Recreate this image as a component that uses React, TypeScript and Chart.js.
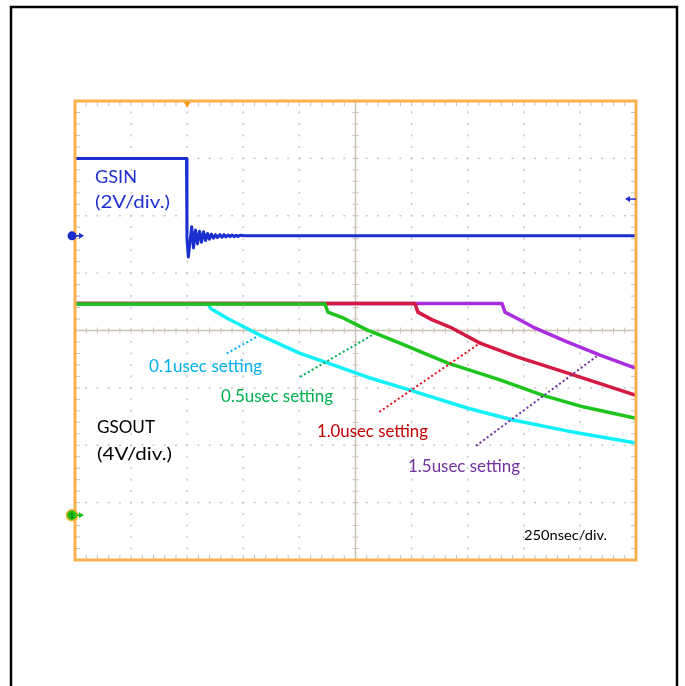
import React, { useEffect, useRef } from "react";
import { Chart, registerables } from "chart.js";

Chart.register(...registerables);

// Horizontal axis: time in ns, 250 ns/div, 10 divisions
const TIME_MIN = 0;
const TIME_MAX = 2500;
const TIME_PER_DIV = 250;
// Vertical axis: screen divisions (0 = bottom, 8 = top)
const DIV_MIN = 0;
const DIV_MAX = 8;

// GSIN (2V/div.)
const gsinTime = [0, 497, 499, 505, 520, 528, 537, 546, 555, 564, 573, 582, 591, 599, 608, 617, 626, 635, 646, 655, 664, 673, 682, 691, 700, 709, 718, 727, 736, 760, 2500];
const gsinLevel = [7.0, 7.0, 5.6, 5.28, 5.81, 5.44, 5.75, 5.51, 5.73, 5.54, 5.72, 5.57, 5.69, 5.59, 5.68, 5.61, 5.67, 5.62, 5.67, 5.625, 5.67, 5.63, 5.665, 5.635, 5.665, 5.635, 5.66, 5.64, 5.66, 5.65, 5.65];

// GSOUT (4V/div.) for each setting
const out01Time = [0, 593, 606, 680, 765, 824, 1003, 1150, 1301, 1493, 1747, 1952, 2193, 2500];
const out01Level = [4.46, 4.46, 4.38, 4.21, 4.04, 3.92, 3.6, 3.4, 3.19, 2.96, 2.65, 2.44, 2.25, 2.04];

const out05Time = [0, 1114, 1127, 1200, 1301, 1448, 1662, 1894, 2086, 2264, 2500];
const out05Level = [4.46, 4.46, 4.32, 4.21, 4.01, 3.78, 3.43, 3.14, 2.87, 2.67, 2.47];

const out10Time = [0, 1515, 1528, 1590, 1671, 1805, 1970, 2193, 2500];
const out10Level = [4.47, 4.47, 4.32, 4.19, 4.06, 3.78, 3.54, 3.26, 2.87];

const out15Time = [0, 1903, 1916, 1975, 2041, 2193, 2340, 2500];
const out15Level = [4.47, 4.47, 4.32, 4.2, 4.06, 3.8, 3.57, 3.34];

// dotted leader lines from labels to curves
const lead01Time = [676, 810];
const lead01Level = [3.6, 3.89];
const lead05Time = [1003, 1324];
const lead05Level = [3.19, 3.92];
const lead10Time = [1356, 1812];
const lead10Level = [2.58, 3.8];
const lead15Time = [1787, 2325];
const lead15Level = [1.99, 3.55];

// text annotations (anchored in data units: left / baseline)
const noteTexts = ["GSIN", "(2V/div.)", "GSOUT", "(4V/div.)", "0.1usec setting", "0.5usec setting", "1.0usec setting", "1.5usec setting", "250nsec/div."];
const noteTimes = [89, 89, 98, 98, 330, 651, 1078, 1484, 2001];
const noteLevels = [6.57, 6.13, 2.21, 1.74, 3.28, 2.75, 2.14, 1.53, 0.35];

// channel markers
const gsinGroundLevel = 5.65;
const gsoutGroundLevel = 0.78;
const triggerTime = 500;
const triggerLevel = 6.29;

const noteColors = ["#1f2fd0", "#1f2fd0", "#000000", "#000000", "#00b0f0", "#00b050", "#c00000", "#7030a0", "#000000"];
const noteFonts = ["18px Lato", "18px Lato", "18px Lato", "18px Lato", "16.5px Lato", "16.5px Lato", "16.5px Lato", "16.5px Lato", "13px Lato"];
const noteWidths = [42, 75, 58, 75, 113, 112, 111, 112, 83];

const pts = (t: number[], v: number[]) => t.map((x, i) => ({ x, y: v[i] }));

const scopePlugin = {
  id: "scope",
  beforeDraw(chart: any) {
    const ctx = chart.ctx;
    ctx.save();
    ctx.fillStyle = "#ffffff";
    ctx.fillRect(0, 0, chart.width, chart.height);
    ctx.restore();
  },
  beforeDatasetsDraw(chart: any) {
    const { ctx, chartArea: a, scales } = chart;
    const xs = scales.x;
    const ys = scales.y;
    ctx.save();
    // dotted grid
    ctx.fillStyle = "#c6c6c6";
    const midT = (TIME_MIN + TIME_MAX) / 2;
    const midV = (DIV_MIN + DIV_MAX) / 2;
    for (let t = TIME_MIN + TIME_PER_DIV; t < TIME_MAX - 1; t += TIME_PER_DIV) {
      if (Math.abs(t - midT) < 1) continue;
      const px = xs.getPixelForValue(t);
      for (let v = DIV_MIN; v <= DIV_MAX + 1e-6; v += 0.2) {
        const py = ys.getPixelForValue(v);
        ctx.fillRect(px - 0.75, py - 1, 1.5, 2);
      }
    }
    for (let v = DIV_MIN + 1; v < DIV_MAX; v += 1) {
      if (Math.abs(v - midV) < 1e-6) continue;
      const py = ys.getPixelForValue(v);
      for (let t = TIME_MIN; t <= TIME_MAX + 1e-6; t += TIME_PER_DIV / 5) {
        const px = xs.getPixelForValue(t);
        ctx.fillRect(px - 1, py - 0.75, 2, 1.5);
      }
    }
    // center cross lines with minor ticks
    const cx = xs.getPixelForValue(midT);
    const cy = ys.getPixelForValue(midV);
    ctx.strokeStyle = "#c9c1b2";
    ctx.lineWidth = 1.5;
    ctx.beginPath();
    ctx.moveTo(a.left, cy);
    ctx.lineTo(a.right, cy);
    ctx.moveTo(cx, a.top);
    ctx.lineTo(cx, a.bottom);
    ctx.stroke();
    ctx.lineWidth = 1;
    ctx.beginPath();
    for (let t = TIME_MIN; t <= TIME_MAX + 1e-6; t += TIME_PER_DIV / 5) {
      const px = xs.getPixelForValue(t);
      ctx.moveTo(px, cy - 3);
      ctx.lineTo(px, cy + 3);
      ctx.moveTo(px, a.top);
      ctx.lineTo(px, a.top + 5);
      ctx.moveTo(px, a.bottom);
      ctx.lineTo(px, a.bottom - 5);
    }
    for (let v = DIV_MIN; v <= DIV_MAX + 1e-6; v += 0.2) {
      const py = ys.getPixelForValue(v);
      ctx.moveTo(cx - 3, py);
      ctx.lineTo(cx + 3, py);
      ctx.moveTo(a.left, py);
      ctx.lineTo(a.left + 5, py);
      ctx.moveTo(a.right, py);
      ctx.lineTo(a.right - 5, py);
    }
    ctx.stroke();
    ctx.restore();
  },
  afterDraw(chart: any) {
    const { ctx, chartArea: a, scales } = chart;
    const xs = scales.x;
    const ys = scales.y;
    ctx.save();
    // orange graticule frame
    ctx.strokeStyle = "#f6b04c";
    ctx.lineWidth = 3;
    ctx.strokeRect(a.left, a.top, a.right - a.left, a.bottom - a.top);

    // trigger position marker
    const tx = xs.getPixelForValue(triggerTime);
    ctx.fillStyle = "#f39a1e";
    ctx.beginPath();
    ctx.moveTo(tx - 3.5, a.top + 1);
    ctx.lineTo(tx + 3.5, a.top + 1);
    ctx.lineTo(tx, a.top + 7);
    ctx.closePath();
    ctx.fill();

    // trigger level arrow (right edge)
    const tly = ys.getPixelForValue(triggerLevel);
    ctx.strokeStyle = "#1f2fd0";
    ctx.fillStyle = "#1f2fd0";
    ctx.lineWidth = 1.5;
    ctx.beginPath();
    ctx.moveTo(a.right, tly);
    ctx.lineTo(a.right - 8, tly);
    ctx.stroke();
    ctx.beginPath();
    ctx.moveTo(a.right - 11, tly);
    ctx.lineTo(a.right - 6, tly - 3);
    ctx.lineTo(a.right - 6, tly + 3);
    ctx.closePath();
    ctx.fill();

    // GSIN ground marker
    const g1 = ys.getPixelForValue(gsinGroundLevel);
    ctx.fillStyle = "#1a2ccc";
    ctx.beginPath();
    ctx.arc(a.left - 3, g1, 4.5, 0, Math.PI * 2);
    ctx.fill();
    ctx.strokeStyle = "#1a2ccc";
    ctx.lineWidth = 1.5;
    ctx.beginPath();
    ctx.moveTo(a.left, g1);
    ctx.lineTo(a.left + 6, g1);
    ctx.stroke();
    ctx.beginPath();
    ctx.moveTo(a.left + 9, g1);
    ctx.lineTo(a.left + 4, g1 - 3);
    ctx.lineTo(a.left + 4, g1 + 3);
    ctx.closePath();
    ctx.fill();

    // GSOUT ground marker
    const g2 = ys.getPixelForValue(gsoutGroundLevel);
    ctx.fillStyle = "#18c018";
    ctx.strokeStyle = "#f0b030";
    ctx.lineWidth = 1.5;
    ctx.beginPath();
    ctx.arc(a.left - 3, g2, 5.5, 0, Math.PI * 2);
    ctx.fill();
    ctx.stroke();
    ctx.fillStyle = "#064806";
    ctx.font = "7px 'DejaVu Sans'";
    ctx.textAlign = "center";
    ctx.textBaseline = "middle";
    ctx.fillText("1", a.left - 3, g2 + 0.5);
    ctx.strokeStyle = "#18c018";
    ctx.fillStyle = "#18c018";
    ctx.beginPath();
    ctx.moveTo(a.left + 2, g2);
    ctx.lineTo(a.left + 6, g2);
    ctx.stroke();
    ctx.beginPath();
    ctx.moveTo(a.left + 9, g2);
    ctx.lineTo(a.left + 4, g2 - 3);
    ctx.lineTo(a.left + 4, g2 + 3);
    ctx.closePath();
    ctx.fill();

    // text notes (horizontally fitted to the reference widths)
    ctx.textAlign = "left";
    ctx.textBaseline = "alphabetic";
    noteTexts.forEach((s, i) => {
      ctx.font = noteFonts[i];
      ctx.fillStyle = noteColors[i];
      const w = ctx.measureText(s).width;
      const k = Math.max(0.85, Math.min(1.15, noteWidths[i] / w));
      const x = xs.getPixelForValue(noteTimes[i]);
      const y = ys.getPixelForValue(noteLevels[i]);
      ctx.save();
      ctx.translate(x, y);
      ctx.scale(k, 1);
      ctx.fillText(s, 0, 0);
      ctx.restore();
    });

    // outer black frame
    ctx.strokeStyle = "#000000";
    ctx.lineWidth = 2.5;
    ctx.beginPath();
    ctx.moveTo(11, chart.height + 5);
    ctx.lineTo(11, 7);
    ctx.lineTo(677, 7);
    ctx.lineTo(677, chart.height + 5);
    ctx.stroke();
    ctx.restore();
  },
};

export default function App() {
  const ref = useRef<HTMLCanvasElement | null>(null);

  useEffect(() => {
    if (!ref.current) return;
    const trace = (label: string, t: number[], v: number[], color: string, width: number) => ({
      label,
      data: pts(t, v),
      borderColor: color,
      backgroundColor: color,
      borderWidth: width,
      pointRadius: 0,
      fill: false,
      tension: 0,
      borderJoinStyle: "round",
    });
    const leader = (label: string, t: number[], v: number[], color: string) => ({
      label,
      data: pts(t, v),
      borderColor: color,
      borderWidth: 2,
      borderDash: [2, 2.5],
      pointRadius: 0,
      fill: false,
    });
    const chart = new Chart(ref.current, {
      type: "line",
      data: {
        datasets: [
          trace("GSIN", gsinTime, gsinLevel, "#1a2fd0", 3),
          leader("lead 0.1", lead01Time, lead01Level, "#00b0f0"),
          leader("lead 0.5", lead05Time, lead05Level, "#00b050"),
          leader("lead 1.0", lead10Time, lead10Level, "#e01020"),
          leader("lead 1.5", lead15Time, lead15Level, "#7030a0"),
          trace("0.5usec", out05Time, out05Level, "#1ec41e", 3.5),
          trace("1.0usec", out10Time, out10Level, "#d41a40", 3.5),
          trace("0.1usec", out01Time, out01Level, "#10f0f8", 3.5),
          trace("1.5usec", out15Time, out15Level, "#a82ee0", 3.5),
        ] as any,
      },
      options: {
        animation: false,
        responsive: false,
        maintainAspectRatio: false,
        devicePixelRatio: 1,
        events: [],
        layout: { padding: { left: 75, top: 101, right: 49, bottom: 126 } },
        plugins: { legend: { display: false }, tooltip: { enabled: false } },
        scales: {
          x: { type: "linear", min: TIME_MIN, max: TIME_MAX, display: false },
          y: { type: "linear", min: DIV_MIN, max: DIV_MAX, display: false },
        },
      } as any,
      plugins: [scopePlugin],
    });
    return () => chart.destroy();
  }, []);

  return (
    <div style={{ position: "absolute", left: 0, top: 0, width: 685, height: 686, background: "#fff" }}>
      <canvas ref={ref} width={685} height={686} style={{ display: "block", width: 685, height: 686 }} />
    </div>
  );
}
